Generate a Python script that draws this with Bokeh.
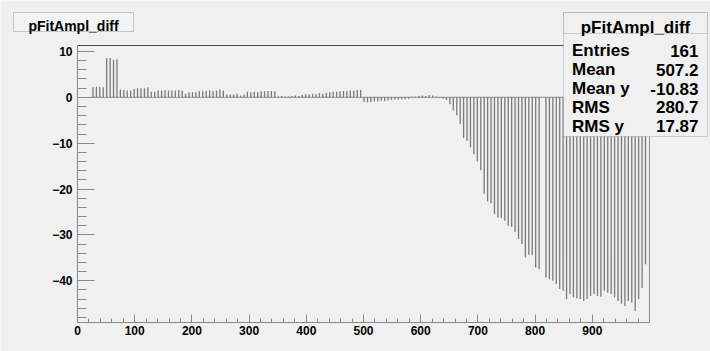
import numpy as np
from bokeh.plotting import figure
from bokeh.models import FixedTicker, BoxAnnotation, Label, ColumnDataSource, LinearAxis
from bokeh.embed import file_html
from bokeh.resources import INLINE

# ---------------- data ----------------
HIST_NAME = "pFitAmpl_diff"
BIN_START = 24.0
BIN_WIDTH = 6.0
bin_values = [
    2.2, 2.3, 2.3, 2.2,
    8.5, 8.6, 8.2, 8.3,
    1.7, 1.6, 1.5, 1.5, 1.8, 2.0, 2.0, 2.0, 2.2,
    1.2, 1.2,
    1.5, 1.5, 1.6, 1.5, 1.5, 1.5, 1.6, 1.5,
    0.8, 1.1, 1.1, 1.1,
    1.3, 1.3, 1.4, 1.5, 1.4, 1.5, 1.7, 1.5,
    0.6, 0.6, 0.6, 0.8, 0.4, 0.6,
    1.2, 1.1, 1.2, 1.1, 1.3, 1.3, 1.4, 1.4, 1.3,
    0.2, 0.3, 0.2, 0.2, 0.3, 0.4, 0.3,
    0.5, 0.7, 0.6, 0.8, 0.7, 0.9, 0.8, 1.0,
    1.1, 1.2, 1.2, 1.3, 1.4, 1.4, 1.5, 1.5, 1.6, 1.6,
    -1.0, -1.1, -1.0, -0.9, -0.9, -0.8, -0.8, -0.7, -0.6, -0.5, -0.5, -0.4, -0.4, -0.3,
    0.1, 0.2, 0.3, 0.4, 0.3, 0.5, 0.4, 0.2,
    -0.1, -0.3,
    -0.6, -1.5, -2.9, -3.9, -5.8, -8.9, -9.5, -10.9, -12.4, -14.0,
    -15.9, -21.0, -22.7, -23.1, -25.5, -26.2, -26.3, -26.9, -28.0, -28.2,
    -29.3, -30.9, -32.0, -34.9, -34.3, -34.4, -37.1, -37.5, float("nan"), -39.3,
    -39.7, -40.0, -40.7, -41.8,
    -42.2, -44.0, -42.9, -43.6, -43.8, -44.0, -44.4, -44.0, -43.3, -42.9,
    -43.3, -43.5, -42.2, -42.6, -42.9, -43.6, -44.4, -45.0, -45.5, -44.4,
    -44.8, -46.6, -44.0, -41.6, -36.4,
]
STAT_NAMES = ["Entries", "Mean", "Mean y", "RMS", "RMS y"]
STAT_VALUES = ["161", "507.2", "-10.83", "280.7", "17.87"]
X_TICKS = [0, 100, 200, 300, 400, 500, 600, 700, 800, 900]
Y_TICKS = [-40, -30, -20, -10, 0, 10]
X_MINOR = [v for v in range(20, 1000, 20) if v % 100 != 0]
Y_MINOR = [v for v in range(-48, 12, 2) if v % 10 != 0]
X_RANGE = (0, 1000)
Y_RANGE = (-49.1, 11.3)

# ---------------- layout ----------------
W, H = 710, 351
FL, FR, FT, FB = 77, 649, 45, 322   # edges of the histogram frame, canvas px
BG = "#f0f0f0"
FONT = "Liberation Sans"

# the Bokeh frame fills the whole canvas (so the pave boxes are not clipped);
# the axes are pinned at the histogram frame with fixed_location
ux = (X_RANGE[1] - X_RANGE[0]) / (FR - FL)
uy = (Y_RANGE[1] - Y_RANGE[0]) / (FB - FT)
x_full = (X_RANGE[0] - FL * ux, X_RANGE[1] + (W - FR) * ux)
y_full = (Y_RANGE[0] - (H - FB) * uy, Y_RANGE[1] + FT * uy)

vals = np.array(bin_values, dtype=float)
centers = BIN_START + BIN_WIDTH * (np.arange(len(vals)) + 0.5)
ok = ~np.isnan(vals)
src = ColumnDataSource(dict(x=centers[ok], y0=np.zeros(ok.sum()), y1=vals[ok]))

p = figure(width=W, height=H, output_backend="svg", toolbar_location=None,
           x_range=x_full, y_range=y_full)
p.min_border = 0
p.min_border_left = 0
p.min_border_right = 0
p.min_border_top = 0
p.min_border_bottom = 0
p.background_fill_color = BG
p.border_fill_color = BG
p.outline_line_color = None
p.xgrid.visible = False
p.ygrid.visible = False

for ax in (p.xaxis[0], p.yaxis[0]):
    ax.axis_line_color = "#888888"
    ax.major_tick_line_color = "#888888"
    ax.minor_tick_line_color = "#888888"
    ax.major_tick_out = 0
    ax.minor_tick_out = 0
    ax.major_label_text_font = FONT
    ax.major_label_text_font_style = "bold"
    ax.major_label_text_font_size = "12px"
    ax.major_label_text_color = "black"

p.xaxis.ticker = FixedTicker(ticks=X_TICKS, minor_ticks=X_MINOR)
p.yaxis.ticker = FixedTicker(ticks=Y_TICKS, minor_ticks=Y_MINOR)
p.xaxis.fixed_location = Y_RANGE[0]
p.yaxis.fixed_location = X_RANGE[0]
p.xaxis.bounds = X_RANGE
p.yaxis.bounds = Y_RANGE
p.xaxis.major_tick_in = 8
p.xaxis.minor_tick_in = 4
p.yaxis.major_tick_in = 17
p.yaxis.minor_tick_in = 9
p.xaxis.major_label_standoff = 3
p.yaxis.major_label_standoff = 5

# top and right edges of the histogram frame: tick-less axes pinned there
top_edge = LinearAxis(ticker=FixedTicker(ticks=[]), fixed_location=Y_RANGE[1],
                      bounds=X_RANGE, axis_line_color="#4a4a4a", axis_line_width=1.2,
                      major_tick_line_color=None, minor_tick_line_color=None,
                      major_label_text_font_size="0px")
right_edge = LinearAxis(ticker=FixedTicker(ticks=[]), fixed_location=X_RANGE[1],
                        bounds=Y_RANGE, axis_line_color="#8a8a8a", axis_line_width=1,
                        major_tick_line_color=None, minor_tick_line_color=None,
                        major_label_text_font_size="0px")
p.add_layout(top_edge, "above")
p.add_layout(right_edge, "right")

# zero baseline across the filled bins, then the bins themselves
p.segment(x0=[BIN_START], y0=[0], x1=[BIN_START + BIN_WIDTH * len(vals)], y1=[0],
          line_color="#888888", line_width=1)
p.segment(x0="x", y0="y0", x1="x", y1="y1", source=src,
          line_color="#7a7a7a", line_width=1.3)


def box(l, r, t, b, fill, line, alpha=1.0):
    return BoxAnnotation(left=l, right=r, top=t, bottom=b,
                         left_units="canvas", right_units="canvas",
                         top_units="canvas", bottom_units="canvas",
                         fill_color=fill, fill_alpha=alpha,
                         line_color=line, line_width=1, level="annotation")


def label(x, y, text, align, size):
    return Label(x=x, y=y, x_units="canvas", y_units="canvas", text=text,
                 text_align=align, text_baseline="alphabetic", text_font=FONT,
                 text_font_style="bold", text_font_size=size, text_color="black")


# title box (top-left)
p.add_layout(box(13, 133, 12, 31, "#f3f3f3", "#555555"))
p.add_layout(label(73, 25.5, HIST_NAME, "center", "14px"))

# stats box (top-right)
SL, SR, ST, SB, SSEP = 563, 707, 12, 136, 33
p.add_layout(box(SL, SR, ST, SB, BG, "#777777"))
p.add_layout(box(SL, SR, ST, SSEP, BG, "#777777"))
p.add_layout(label((SL + SR) / 2, 26.5, HIST_NAME, "center", "17px"))
row_base = [50, 69, 88, 106.5, 125.5]
for name, val, by in zip(STAT_NAMES, STAT_VALUES, row_base):
    p.add_layout(label(SL + 8.5, by, name, "left", "17px"))
    p.add_layout(label(SR - 9, by, val, "right", "17px"))

html = file_html(p, INLINE, title=HIST_NAME)
html = html.replace("<body>", '<body style="background-color:%s">' % BG, 1)
open("out.html", "w").write(html)
